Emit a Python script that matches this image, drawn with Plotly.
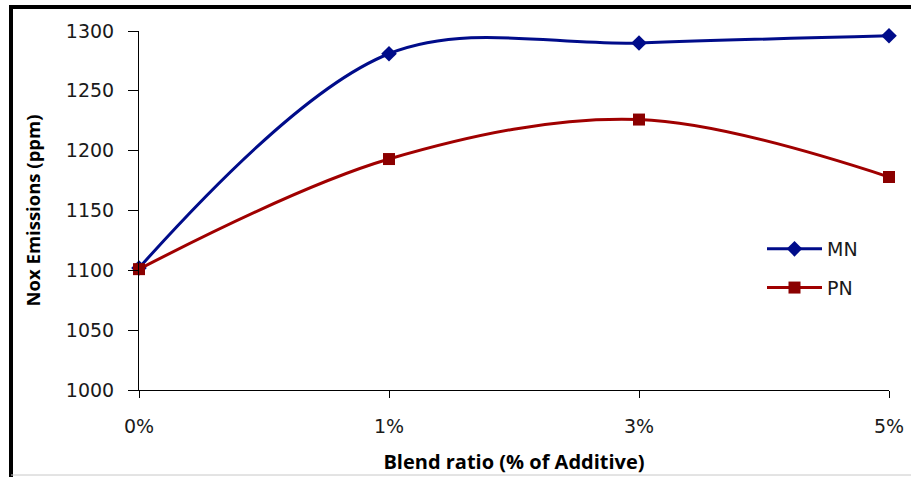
import plotly.graph_objects as go

# Blend ratios tested and measured NOx emissions (ppm)
blend_ratio = ["0%", "1%", "3%", "5%"]
mn_nox = [1102, 1281, 1290, 1296]
pn_nox = [1101, 1193, 1226, 1178]
y_ticks = [1000, 1050, 1100, 1150, 1200, 1250, 1300]

W, H = 911, 477
L, R, T, B = 139, 22, 31, 87
pw, ph = W - L - R, H - T - B


def px_x(x):
    return (x - L) / pw


def px_y(y):
    return 1 - (y - T) / ph


fig = go.Figure()
fig.add_trace(go.Scatter(
    x=blend_ratio, y=mn_nox, name="MN", mode="lines+markers",
    legendgroup="mn",
    line=dict(color="#000C8A", width=3, shape="spline", smoothing=1),
    marker=dict(symbol="diamond", size=12, color="#000C8A"),
    cliponaxis=False,
))
fig.add_trace(go.Scatter(
    x=blend_ratio, y=pn_nox, name="PN", mode="lines+markers",
    legendgroup="pn",
    line=dict(color="#A00000", width=3, shape="spline", smoothing=1),
    marker=dict(symbol="square", size=12, color="#8B0000"),
    cliponaxis=False,
))

tick_font = dict(family="DejaVu Sans", size=19, color="#1a1a1a")

fig.update_xaxes(
    type="category", range=[0, 3], showgrid=False, zeroline=False,
    showline=True, linecolor="#000000", linewidth=1, automargin=False,
    ticks="outside", ticklen=7, tickcolor="#000000",
    tickfont=tick_font, ticklabelstandoff=12,
    title=dict(text="Blend ratio (% of Additive)",
               font=dict(family="Open Sans", size=20, color="#000000", weight="bold"),
               standoff=19),
)
fig.update_yaxes(
    range=[1000, 1300], tickvals=y_ticks, showgrid=False, zeroline=False,
    showline=True, linecolor="#000000", linewidth=1, automargin=False,
    ticks="outside", ticklen=10, tickcolor="#000000",
    tickfont=tick_font, ticklabelstandoff=10,
    title=dict(text="Nox Emissions (ppm)",
               font=dict(family="Open Sans", size=18.5, color="#000000", weight="bold"),
               standoff=20),
)

# Chart frame: heavy black border on top and left, light rule along the bottom
fig.add_shape(type="line", xref="paper", yref="paper",
              x0=px_x(11), x1=px_x(W + 10), y0=px_y(7), y1=px_y(7),
              line=dict(color="#000000", width=4))
fig.add_shape(type="line", xref="paper", yref="paper",
              x0=px_x(11), x1=px_x(11), y0=px_y(5), y1=px_y(H + 10),
              line=dict(color="#000000", width=4))
fig.add_shape(type="line", xref="paper", yref="paper",
              x0=px_x(11), x1=px_x(W + 10), y0=px_y(475), y1=px_y(475),
              line=dict(color="#c8c8c8", width=1))

fig.update_layout(
    width=W, height=H,
    margin=dict(l=L, r=R, t=T, b=B, autoexpand=False),
    paper_bgcolor="#ffffff", plot_bgcolor="#ffffff",
    showlegend=True,
    legend=dict(
        x=px_x(762), y=px_y(230), xanchor="left", yanchor="top",
        font=dict(family="DejaVu Sans", size=19, color="#1a1a1a"),
        bgcolor="rgba(0,0,0,0)", tracegroupgap=11, itemwidth=55,
    ),
)

fig.write_html("out.html")
